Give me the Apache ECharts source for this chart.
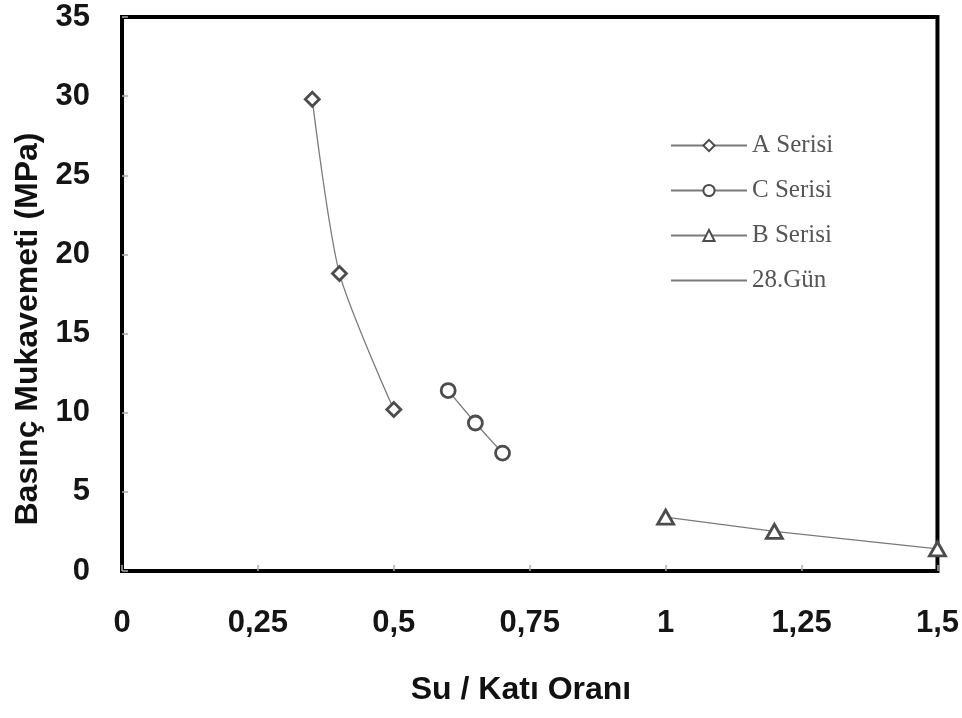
<!DOCTYPE html>
<html>
<head>
<meta charset="utf-8">
<script src="https://cdn.jsdelivr.net/npm/echarts@6/dist/echarts.min.js"></script>
<style>
  html, body { margin: 0; padding: 0; background: #fff; }
  #chart { width: 962px; height: 718px; }
</style>
</head>
<body>
<div id="chart"></div>
<script>
// Su / katı oranına göre 28 günlük basınç mukavemeti
const seriesNames = ['A Serisi', 'C Serisi', 'B Serisi', '28.Gün'];

const aRatio = [0.35, 0.40, 0.50];
const aStrength = [29.8, 18.8, 10.2];

const cRatio = [0.60, 0.65, 0.70];
const cStrength = [11.4, 9.35, 7.45];

const bRatio = [1.00, 1.20, 1.50];
const bStrength = [3.4, 2.5, 1.4];

const xTickValues = [0, 0.25, 0.5, 0.75, 1, 1.25, 1.5];
const xTickLabels = ['0', '0,25', '0,5', '0,75', '1', '1,25', '1,5'];
const yTickLabels = ['0', '5', '10', '15', '20', '25', '30', '35'];

const xTitle = 'Su / Katı Oranı';
const yTitle = 'Basınç Mukavemeti (MPa)';

const pairs = (xs, ys) => xs.map((x, i) => [x, ys[i]]);

const markStyle = { color: '#fff', borderColor: '#4c4c4c', borderWidth: 2.8 };
const lineStyle = { color: '#7a7a7a', width: 1.3 };
const titleFont = { fontFamily: 'Liberation Sans', fontWeight: 'bold', fontSize: 32, fill: '#111' };

const chart = echarts.init(document.getElementById('chart'), null, { renderer: 'canvas' });

chart.setOption({
  backgroundColor: '#fff',
  animation: false,
  grid: {
    left: 122, top: 17, right: 24, bottom: 147,
    show: true, borderColor: '#000', borderWidth: 4, backgroundColor: 'transparent'
  },
  legend: {
    orient: 'vertical',
    left: 670, top: 133, padding: 0,
    itemWidth: 76, itemHeight: 14, itemGap: 20,
    data: [
      seriesNames[0], seriesNames[1], seriesNames[2],
      { name: seriesNames[3], itemStyle: { opacity: 0 } }
    ],
    textStyle: { fontFamily: 'Liberation Serif', fontSize: 25, color: '#555' }
  },
  graphic: [
    {
      type: 'text', x: 521, y: 690,
      style: Object.assign({ text: xTitle, textAlign: 'center', textVerticalAlign: 'middle' }, titleFont)
    },
    {
      type: 'text', x: 28, y: 329, rotation: Math.PI / 2,
      style: Object.assign({ text: yTitle, textAlign: 'center', textVerticalAlign: 'middle' }, titleFont)
    }
  ],
  xAxis: {
    type: 'value', min: 0, max: 1.5, interval: 0.25,
    axisLine: { show: false },
    axisTick: { show: true, inside: true, length: 6, lineStyle: { color: '#aaa', width: 1.5 } },
    splitLine: { show: false },
    axisLabel: {
      margin: 37, fontFamily: 'Liberation Sans', fontWeight: 'bold', fontSize: 31, color: '#151515',
      formatter: v => { const i = xTickValues.findIndex(t => Math.abs(t - v) < 1e-9); return i >= 0 ? xTickLabels[i] : ''; }
    }
  },
  yAxis: {
    type: 'value', min: 0, max: 35, interval: 5,
    axisLine: { show: false },
    axisTick: { show: true, inside: true, length: 6, lineStyle: { color: '#aaa', width: 1.5 } },
    splitLine: { show: false },
    axisLabel: {
      margin: 32, fontFamily: 'Liberation Sans', fontWeight: 'bold', fontSize: 31, color: '#151515',
      formatter: v => yTickLabels[Math.round(v / 5)]
    }
  },
  series: [
    {
      name: seriesNames[0], type: 'line', data: pairs(aRatio, aStrength), smooth: 0.25,
      symbol: 'path://M0,-1L1,0L0,1L-1,0Z', symbolSize: [14, 14],
      itemStyle: markStyle, lineStyle: lineStyle, color: '#4c4c4c'
    },
    {
      name: seriesNames[1], type: 'line', data: pairs(cRatio, cStrength),
      symbol: 'circle', symbolSize: 14,
      itemStyle: markStyle, lineStyle: lineStyle, color: '#4c4c4c'
    },
    {
      name: seriesNames[2], type: 'line', data: pairs(bRatio, bStrength),
      symbol: 'triangle', symbolSize: [16, 14],
      itemStyle: markStyle, lineStyle: lineStyle, color: '#4c4c4c'
    },
    {
      name: seriesNames[3], type: 'line', data: [], symbol: 'none',
      lineStyle: lineStyle, color: '#7a7a7a'
    }
  ]
});
</script>
</body>
</html>
